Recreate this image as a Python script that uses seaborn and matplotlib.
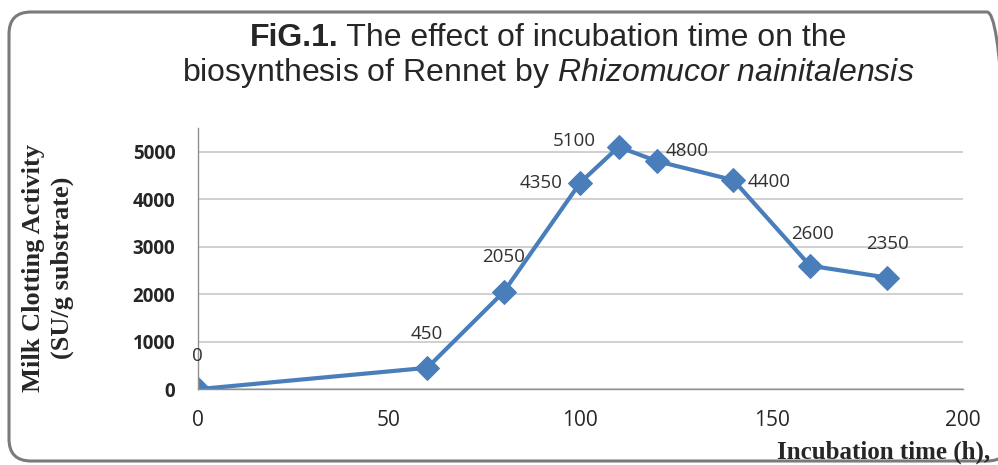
import matplotlib
matplotlib.use("Agg")
import matplotlib.pyplot as plt
import seaborn as sns
import pandas as pd
from matplotlib.patches import FancyBboxPatch

# data
hours = [0, 60, 80, 100, 110, 120, 140, 160, 180]
activity = [0, 450, 2050, 4350, 5100, 4800, 4400, 2600, 2350]
# label offsets (points) relative to each marker
label_dx = [0, 0, 0, -28, -32, 22, 26, 2, 1]
label_dy = [24, 24, 25, 0, 4, 7, -1, 23, 24]

sns.set_style("white")
plt.rcParams["font.family"] = ["Liberation Sans", "DejaVu Sans"]
plt.rcParams["mathtext.fontset"] = "custom"
plt.rcParams["mathtext.rm"] = "Liberation Sans"
plt.rcParams["mathtext.bf"] = "Liberation Sans:bold"
plt.rcParams["mathtext.it"] = "Liberation Sans:italic"

df = pd.DataFrame({"hours": hours, "activity": activity})

fig = plt.figure(figsize=(9.98, 4.65), dpi=100)
ax = fig.add_axes([0.198, 0.163, 0.767, 0.562])

blue = "#4a7ebb"
sns.lineplot(data=df, x="hours", y="activity", ax=ax, color=blue, lw=3,
             marker="D", markersize=12, markeredgecolor=blue)

for x, y, dx, dy in zip(hours, activity, label_dx, label_dy):
    ax.annotate(str(y), (x, y), xytext=(dx, dy), textcoords="offset points",
                ha="center", va="center", fontsize=13.5, color="#303030",
                family="Open Sans")

ax.set_xlim(0, 200)
ax.set_ylim(0, 5500)
ax.set_xticks(range(0, 201, 50))
ax.set_yticks(range(0, 5001, 1000))
ax.yaxis.grid(True, color="#c8c8c8", lw=1.2)
ax.set_axisbelow(True)
for s in ["top", "right"]:
    ax.spines[s].set_visible(False)
for s in ["left", "bottom"]:
    ax.spines[s].set_color("#909090")
    ax.spines[s].set_linewidth(1)
ax.tick_params(axis="x", direction="out", length=5, color="#909090",
               labelsize=15, pad=10)
ax.tick_params(axis="y", direction="out", length=4, color="#909090",
               labelsize=13.5, pad=12)
for t in ax.get_xticklabels():
    t.set_family("Open Sans")
for t in ax.get_yticklabels():
    t.set_family("Open Sans")
    t.set_fontweight("bold")
ax.set_xlabel("")
ax.set_ylabel("")

fig.text(0.034, 0.424, "Milk Clotting Activity", rotation=90, ha="center",
         va="center", family="Liberation Serif", fontweight="bold", fontsize=19)
fig.text(0.062, 0.424, "(SU/g substrate)", rotation=90, ha="center",
         va="center", family="Liberation Serif", fontweight="bold", fontsize=19)
fig.text(0.992, 0.028, "Incubation time (h),", ha="right", va="center",
         family="Liberation Serif", fontweight="bold", fontsize=18)

# title: bold prefix followed by regular text, placed side by side
renderer = fig.canvas.get_renderer()
t1a = fig.text(0, 0.918, "FiG.1.", fontweight="bold", fontsize=23,
               ha="left", va="center")
t1b = fig.text(0, 0.918, " The effect of incubation time on the", fontsize=23,
               ha="left", va="center")
w_a = t1a.get_window_extent(renderer).width
w_b = t1b.get_window_extent(renderer).width
x0 = 548 - (w_a + w_b) / 2
t1a.set_x(x0 / 998)
t1b.set_x((x0 + w_a) / 998)
fig.text(0.549, 0.842,
         r"biosynthesis of Rennet by $\mathit{Rhizomucor\ nainitalensis}$",
         ha="center", va="center", fontsize=23)

border = FancyBboxPatch((9, 4), 1000, 449, boxstyle="round,pad=0,rounding_size=22",
                        transform=None, fill=False, ec="#7a7a7a", lw=2.2,
                        clip_on=False)
fig.patches.append(border)

fig.savefig("out.png", dpi=100)
